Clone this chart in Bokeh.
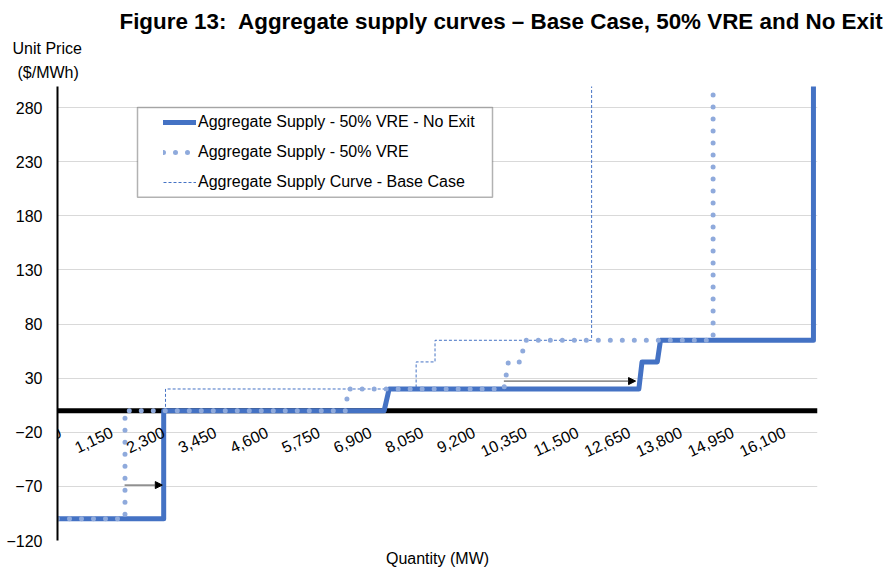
from bokeh.plotting import figure
from bokeh.models import (Range1d, FixedTicker, Span, Arrow, NormalHead, LabelSet,
                          BoxAnnotation, Legend, LegendItem, ColumnDataSource, Title)
from bokeh.core.properties import value
from bokeh.embed import file_html
from bokeh.resources import INLINE

# ---------------- data ----------------
title_text = "Figure 13:\u00a0 Aggregate supply curves \u2013 Base Case, 50% VRE and No Exit"

no_exit_x = [0, 2360, 2360, 7260, 7370, 12920, 12990, 13330, 13400, 16800, 16800]
no_exit_y = [-100, -100, 0, 0, 20, 20, 45, 45, 65, 65, 300]

vre_x = [0, 1500, 1500, 6400, 6460, 9920, 10020, 10280, 10400, 14570, 14570]
vre_y = [-100, -100, 0, 0, 20, 20, 45, 45, 65, 65, 292]

base_x = [0, 2400, 2400, 7970, 7970, 8390, 8390, 11870, 11870]
base_y = [-100, -100, 20, 20, 45, 45, 65, 65, 300]

x_ticks = [0, 1150, 2300, 3450, 4600, 5750, 6900, 8050, 9200, 10350,
           11500, 12650, 13800, 14950, 16100]
x_tick_labels = [f"{v:,}" for v in x_ticks]
y_ticks = [-120, -70, -20, 30, 80, 130, 180, 230, 280]

arrow_x0 = [1491, 9920]
arrow_x1 = [2329, 12847]
arrow_y = [-68.8, 27.3]

series_labels = ["Aggregate Supply - 50% VRE - No Exit",
                 "Aggregate Supply - 50% VRE",
                 "Aggregate Supply Curve - Base Case"]

# ---------------- layout ----------------
XMIN, XMAX = 0, 16890
YMIN, YMAX = -120, 299.5
W, H = 885, 569
FL, FR, FT, FB = 57, 817, 86, 541   # frame edges in px

def dx(px):   # px -> data x
    return XMIN + (px - FL) / (FR - FL) * (XMAX - XMIN)

def dy(py):   # px -> data y
    return YMIN + (FB - py) / (FB - FT) * (YMAX - YMIN)

FONT = "Liberation Sans"

p = figure(width=W, height=H, x_range=Range1d(XMIN, XMAX), y_range=Range1d(YMIN, YMAX),
           output_backend="svg", toolbar_location=None, title=None,
           min_border_left=FL, min_border_right=W - FR, min_border_top=FT,
           min_border_bottom=H - FB)
p.outline_line_color = None
p.background_fill_color = "white"
p.border_fill_color = "white"

# y axis
p.yaxis.ticker = FixedTicker(ticks=y_ticks)
p.yaxis.axis_line_width = 2
p.yaxis.axis_line_color = "black"
p.yaxis.major_tick_line_color = None
p.yaxis.major_tick_out = 0
p.yaxis.major_tick_in = 0
p.yaxis.minor_tick_line_color = None
p.yaxis.minor_tick_out = 0
p.yaxis.major_label_standoff = 15
p.yaxis.major_label_text_font = FONT
p.yaxis.major_label_text_font_size = "16px"
p.yaxis.major_label_text_color = "black"

# x axis (title only; tick labels sit on the zero line)
p.xaxis.ticker = FixedTicker(ticks=[])
p.xaxis.axis_line_color = None
p.xaxis.major_tick_line_color = None
p.xaxis.major_tick_out = 0
p.xaxis.minor_tick_line_color = None
p.xaxis.minor_tick_out = 0
p.xaxis.major_label_text_font_size = "0px"
p.xaxis.axis_label = "Quantity (MW)"
p.xaxis.axis_label_standoff = 9
p.xaxis.axis_label_text_font = FONT
p.xaxis.axis_label_text_font_style = "normal"
p.xaxis.axis_label_text_font_size = "16px"
p.xaxis.axis_label_text_color = "black"

p.ygrid.ticker = FixedTicker(ticks=y_ticks)
p.ygrid.grid_line_color = "#D9D9D9"
p.ygrid.grid_line_width = 1
p.xgrid.visible = False

zero = Span(location=0, dimension="width", line_color="black", line_width=5, level="underlay")
p.add_layout(zero)

# series
r_base = p.line(base_x, base_y, line_color="#4472C4", line_width=1, line_dash="3 2")
r_solid = p.line(no_exit_x, no_exit_y, line_color="#4472C4", line_width=5,
                 line_join="round", line_cap="round")
r_vre = p.line(vre_x, vre_y, line_color="#8FAADC", line_width=5, line_dash="0 12",
               line_cap="round", line_join="round")

# arrows
for x0, x1, yy in zip(arrow_x0, arrow_x1, arrow_y):
    p.add_layout(Arrow(x_start=x0, y_start=yy, x_end=x1, y_end=yy,
                       line_color="#404040", line_width=1,
                       end=NormalHead(size=7, fill_color="black", line_color="black")))

# x tick labels along the zero line
tick_src = ColumnDataSource(dict(x=x_ticks, y=[0] * len(x_ticks), text=x_tick_labels))
p.add_layout(LabelSet(x="x", y="y", text="text", source=tick_src, angle=0.436,
                      text_align="right", text_baseline="top", y_offset=-15,
                      text_font=value(FONT), text_font_size=value("16px"),
                      text_color="black"))

# legend box
p.add_layout(BoxAnnotation(left=dx(137), right=dx(492), top=dy(107), bottom=dy(197),
                           fill_color="white", fill_alpha=1, line_color="black",
                           line_width=1.5, level="annotation"))
legend = Legend(items=[LegendItem(label=series_labels[0], renderers=[r_solid]),
                       LegendItem(label=series_labels[1], renderers=[r_vre]),
                       LegendItem(label=series_labels[2], renderers=[r_base])],
                location=(106, 348), glyph_width=33, glyph_height=20, label_height=20,
                spacing=10, padding=5, margin=0, label_standoff=2,
                border_line_color=None, background_fill_alpha=0,
                label_text_font=FONT, label_text_font_size="16px", label_text_color="black")
p.add_layout(legend)

# titles (stacked outward from the frame)
p.add_layout(Title(text="($/MWh)", align="left", offset=-40, standoff=11,
                   text_font=FONT, text_font_size="16px", text_font_style="normal",
                   text_color="black"), "above")
p.add_layout(Title(text="Unit Price", align="left", offset=-45, standoff=0,
                   text_font=FONT, text_font_size="16px", text_font_style="normal",
                   text_color="black"), "above")
p.add_layout(Title(text=title_text, align="right", offset=-66, standoff=7,
                   text_font=FONT, text_font_size="22.4px", text_font_style="bold",
                   text_color="black"), "above")

open("out.html", "w").write(file_html(p, INLINE))
